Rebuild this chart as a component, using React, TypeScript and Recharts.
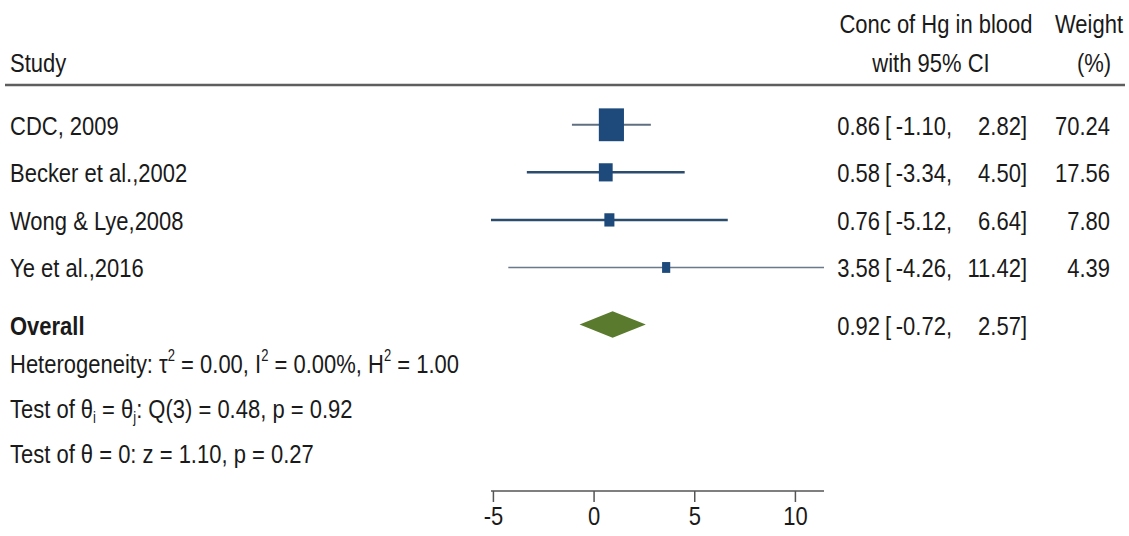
import React from "react";
import {
  ScatterChart, Scatter, XAxis, YAxis, ReferenceArea,
} from "recharts";

// study rows
const studies = ["CDC, 2009", "Becker et al.,2002", "Wong & Lye,2008", "Ye et al.,2016"];
const est = [0.86, 0.58, 0.76, 3.58];
const lo = [-1.1, -3.34, -5.12, -4.26];
const hi = [2.82, 4.5, 6.64, 11.42];
const weight = [70.24, 17.56, 7.8, 4.39];

// pooled estimate
const overallEst = 0.92;
const overallLo = -0.72;
const overallHi = 2.57;

// heterogeneity / tests
const tau2 = 0.0;
const i2 = 0.0;
const h2 = 1.0;
const qDf = 3;
const qStat = 0.48;
const qP = 0.92;
const zStat = 1.1;
const zP = 0.27;

const xTicks = [-5, 0, 5, 10];

const W = 1129;
const H = 536;
const M = { top: 101, right: 305, bottom: 15, left: 491 };
const AXIS_H = 30;
const PLOT_H = H - M.top - M.bottom - AXIS_H;
const yDomain = [-0.5, 7.7];
const overallRow = studies.length + 0.2;
const xDomain = [Math.min(...lo, overallLo), Math.max(...hi, overallHi)];

const ink = "#1a1a1a";
const boxColor = "#1d4a7b";
const diamondColor = "#5a7a2d";
const ciStyle = [
  { stroke: "#5f6f80", width: 2 },
  { stroke: "#2c4c6d", width: 2.5 },
  { stroke: "#2c4c6d", width: 2.5 },
  { stroke: "#6a7a8b", width: 1.5 },
];

const rowY = (v: number) =>
  M.top + ((v - yDomain[0]) / (yDomain[1] - yDomain[0])) * PLOT_H;

const boxData = studies.map((s, i) => ({ x: est[i], y: i, w: weight[i] }));

function T({ x, y, anchor = "start", bold = false, children }: any) {
  return (
    <text
      transform={`translate(${x} ${y}) scale(1 1.2)`}
      textAnchor={anchor}
      fontFamily="'Liberation Sans', Arial, sans-serif"
      fontSize={22}
      fontWeight={bold ? 700 : 400}
      fill={ink}
    >
      {children}
    </text>
  );
}

// text runs with super/subscripts; each run carries the shift back to baseline
type Run = { t: string; sup?: boolean; sub?: boolean };
function Runs({ runs }: { runs: Run[] }) {
  let cur = 0;
  return (
    <>
      {runs.map((r, k) => {
        const target = r.sup ? -10 : r.sub ? 4 : 0;
        const dy = target - cur;
        cur = target;
        return (
          <tspan key={k} dy={dy} fontSize={r.sup || r.sub ? 13 : undefined}>
            {r.t}
          </tspan>
        );
      })}
    </>
  );
}

// weighted square, area grows with study weight
function WeightBox(p: any) {
  const s = Math.sqrt(p.payload.w);
  const bw = 2.7 * s + 2.5;
  const bh = 3.5 * s + 3.5;
  return <rect x={p.cx - bw / 2} y={p.cy - bh / 2} width={bw} height={bh} fill={boxColor} />;
}

function Diamond(p: any) {
  const { x, y, width, height } = p;
  const ax = x + (width * (overallEst - overallLo)) / (overallHi - overallLo);
  const my = y + height / 2;
  return (
    <polygon
      points={`${x},${my} ${ax},${y} ${x + width},${my} ${ax},${y + height}`}
      fill={diamondColor}
    />
  );
}

const f2 = (v: number) => v.toFixed(2);

export default function App() {
  const oy = rowY(overallRow) + 10;
  return (
    <div style={{ position: "relative", width: W, height: H, background: "#fff" }}>
      <style>{`body{margin:0}`}</style>
      <ScatterChart width={W} height={H} margin={M}>
        <XAxis
          type="number"
          dataKey="x"
          domain={xDomain}
          ticks={xTicks}
          allowDataOverflow
          height={AXIS_H}
          axisLine={{ stroke: "#555", strokeWidth: 1.5 }}
          tickLine={{ stroke: "#555", strokeWidth: 1.5 }}
          tickSize={11}
          tick={(p: any) => (
            <T x={p.x} y={525} anchor="middle">{p.payload.value}</T>
          )}
        />
        <YAxis type="number" dataKey="y" domain={yDomain} reversed hide />
        {studies.map((s, i) => (
          <Scatter
            key={s}
            data={[{ x: lo[i], y: i }, { x: hi[i], y: i }]}
            fill={ciStyle[i].stroke}
            line={{ stroke: ciStyle[i].stroke, strokeWidth: ciStyle[i].width }}
            shape={() => <g />}
            isAnimationActive={false}
            legendType="none"
          />
        ))}
        <Scatter
          data={boxData}
          fill={boxColor}
          shape={WeightBox}
          isAnimationActive={false}
          legendType="none"
        />
        <ReferenceArea
          x1={overallLo}
          x2={overallHi}
          y1={overallRow - 0.28}
          y2={overallRow + 0.28}
          ifOverflow="visible"
          shape={Diamond}
        />
      </ScatterChart>

      <svg
        width={W}
        height={H}
        style={{ position: "absolute", left: 0, top: 0, pointerEvents: "none" }}
      >
        {/* header */}
        <T x={10} y={72}>Study</T>
        <T x={936} y={33} anchor="middle">Conc of Hg in blood</T>
        <T x={931} y={72} anchor="middle">with 95% CI</T>
        <T x={1089} y={33} anchor="middle">Weight</T>
        <T x={1094} y={72} anchor="middle">(%)</T>
        <line x1={5} x2={1125} y1={85} y2={85} stroke="#5e5e5e" strokeWidth={2.5} />

        {studies.map((s, i) => {
          const by = rowY(i) + 10;
          return (
            <g key={s}>
              <T x={10} y={by}>{s}</T>
              <T x={880} y={by} anchor="end">{f2(est[i])}</T>
              <T x={885} y={by}>[</T>
              <T x={952} y={by} anchor="end">{f2(lo[i])},</T>
              <T x={1027} y={by} anchor="end">{f2(hi[i])}]</T>
              <T x={1110} y={by} anchor="end">{f2(weight[i])}</T>
            </g>
          );
        })}

        <T x={10} y={oy} bold>Overall</T>
        <T x={880} y={oy} anchor="end">{f2(overallEst)}</T>
        <T x={885} y={oy}>[</T>
        <T x={952} y={oy} anchor="end">{f2(overallLo)},</T>
        <T x={1027} y={oy} anchor="end">{f2(overallHi)}]</T>

        <T x={10} y={373}>
          <Runs
            runs={[
              { t: "Heterogeneity: τ" },
              { t: "2", sup: true },
              { t: ` = ${f2(tau2)}, I` },
              { t: "2", sup: true },
              { t: ` = ${f2(i2)}%, H` },
              { t: "2", sup: true },
              { t: ` = ${f2(h2)}` },
            ]}
          />
        </T>
        <T x={10} y={418}>
          <Runs
            runs={[
              { t: "Test of θ" },
              { t: "i", sub: true },
              { t: " = θ" },
              { t: "j", sub: true },
              { t: `: Q(${qDf}) = ${f2(qStat)}, p = ${f2(qP)}` },
            ]}
          />
        </T>
        <T x={10} y={463}>
          Test of θ = 0: z = {f2(zStat)}, p = {f2(zP)}
        </T>
      </svg>
    </div>
  );
}
